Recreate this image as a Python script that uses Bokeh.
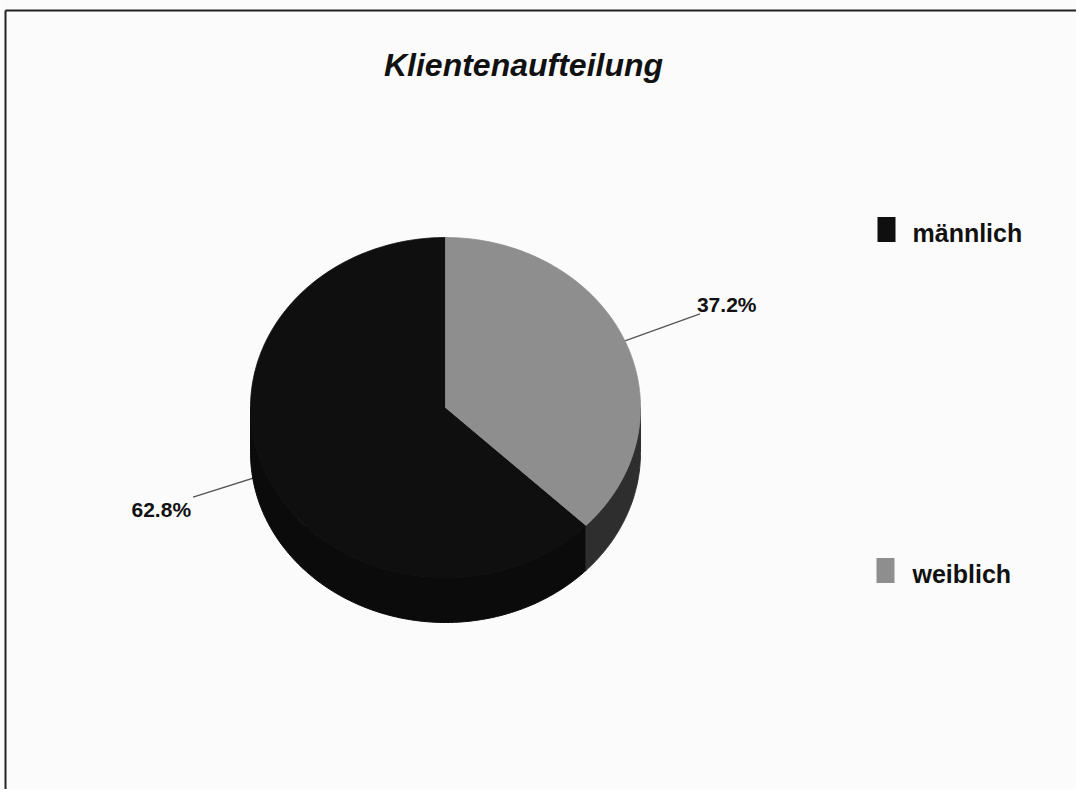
import numpy as np
from bokeh.plotting import figure
from bokeh.models import Range1d
from bokeh.core.properties import value
from bokeh.embed import file_html
from bokeh.resources import INLINE

# ---- data ----
title_text = "Klientenaufteilung"
categories = ["männlich", "weiblich"]
shares = [62.8, 37.2]
label_texts = ["62.8%", "37.2%"]
top_colors = ["#0f0f0f", "#8e8e8e"]
side_colors = ["#0b0b0b", "#2e2e2e"]

# ---- layout / style ----
W, H = 1076, 789
FONT = "Liberation Sans"
TXT_SHIFT = -9.0
cx, cy, rx, ry, depth = 445.0, 407.0, 195.0, 170.0, 45.0
leader_offsets = [(-73.0, 23.0), (75.0, -27.0)]
label_text_offsets = [(-2.0, 21.0), (-3.0, 0.0)]
label_align = ["right", "left"]
legend_x = [877.0, 876.0]
legend_y = [229.0, 570.0]

p = figure(width=W, height=H, x_range=Range1d(0, W), y_range=Range1d(H, 0),
           output_backend="svg", toolbar_location=None, min_border=0)
p.axis.visible = False
p.grid.visible = False
p.outline_line_color = None
p.background_fill_color = "#fbfbfb"
p.border_fill_color = "#fbfbfb"

# frame (top and left edges visible in the scan)
p.line([5, W], [10, 10], line_color="#222222", line_width=2)
p.line([5, 5], [10, H], line_color="#222222", line_width=2)


def pt(theta_deg):
    t = np.radians(theta_deg)
    return cx + rx * np.cos(t), cy - ry * np.sin(t)


# slice angles (counterclockwise from 12 o'clock)
total = float(sum(shares))
starts, ends = [], []
a = 90.0
for s in shares:
    starts.append(a)
    a += 360.0 * s / total
    ends.append(a)

# leader lines and labels (under the pie)
for i in range(len(shares)):
    mid = (starts[i] + ends[i]) / 2.0
    ax, ay = pt(mid)
    ex, ey = ax + leader_offsets[i][0], ay + leader_offsets[i][1]
    p.line([ax, ex], [ay, ey], line_color="#555555", line_width=1.3)
    tx, ty = ex + label_text_offsets[i][0], ey + label_text_offsets[i][1] + TXT_SHIFT
    p.text([tx], [ty], text=[label_texts[i]], text_font=value(FONT), text_font_style="bold",
           text_font_size="21px", text_color="#111111", text_align=label_align[i],
           text_baseline="alphabetic")

# side faces (visible lower half)
for i in range(len(shares)):
    for lo, hi in [(180.0, 360.0), (540.0, 720.0)]:
        a0, a1 = max(starts[i], lo), min(ends[i], hi)
        if a1 <= a0:
            continue
        th = np.linspace(a0, a1, 120)
        xs, ys = pt(th)
        px = np.concatenate([xs, xs[::-1]])
        py = np.concatenate([ys, ys[::-1] + depth])
        p.patch(px, py, fill_color=side_colors[i], line_color=side_colors[i], line_width=1)

# top faces
for i in range(len(shares)):
    th = np.linspace(starts[i], ends[i], 300)
    xs, ys = pt(th)
    px = np.concatenate([[cx], xs])
    py = np.concatenate([[cy], ys])
    p.patch(px, py, fill_color=top_colors[i], line_color=top_colors[i], line_width=0.8)

# title
p.text([523], [73 + TXT_SHIFT], text=[title_text], text_font=value(FONT),
       text_font_style="bold italic", text_font_size="32px", text_color="#111111",
       text_align="center", text_baseline="alphabetic")

# legend
for i, cat in enumerate(categories):
    p.rect([legend_x[i] + 9], [legend_y[i]], width=18, height=25, fill_color=top_colors[i],
           line_color=None)
    p.text([912], [legend_y[i] + 12 + TXT_SHIFT], text=[cat], text_font=value(FONT),
           text_font_style="bold", text_font_size="25px", text_color="#111111",
           text_align="left", text_baseline="alphabetic")

open("out.html", "w").write(file_html(p, INLINE))
